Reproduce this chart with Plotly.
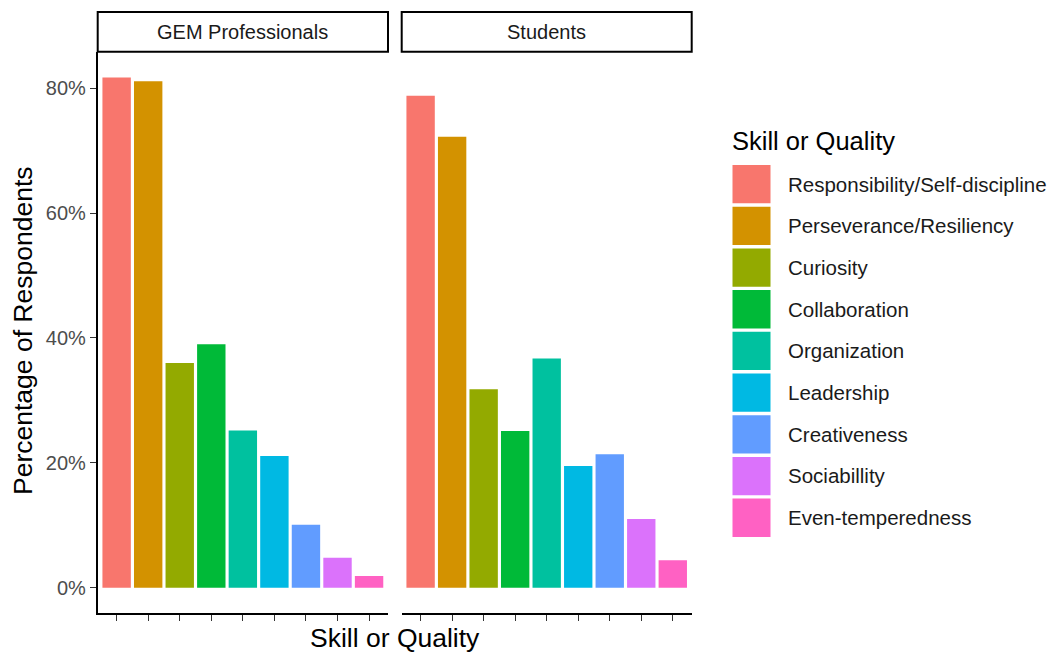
import plotly.graph_objects as go

# ---- data ----
skills = ["Responsibility/Self-discipline", "Perseverance/Resiliency", "Curiosity",
          "Collaboration", "Organization", "Leadership", "Creativeness",
          "Sociabillity", "Even-temperedness"]
gem_professionals = [81.7, 81.1, 36.0, 39.0, 25.2, 21.1, 10.1, 4.8, 1.9]
students = [78.8, 72.2, 31.8, 25.1, 36.7, 19.5, 21.4, 11.0, 4.4]
panel_names = ["GEM Professionals", "Students"]
colors = ["#F8766D", "#D39200", "#93AA00", "#00BA38", "#00C19F",
          "#00B9E3", "#619CFF", "#DB72FB", "#FF61C3"]
y_ticks = [0, 20, 40, 60, 80]
y_ticklabels = ["0%", "20%", "40%", "60%", "80%"]

W, H = 1057, 653
FONT = "Liberation Sans, Arial, sans-serif"

def px(x):
    return x / W

def py(y):
    return 1 - y / H

fig = go.Figure()
for i, vals in enumerate([gem_professionals, students]):
    fig.add_trace(go.Bar(
        x=skills, y=vals, marker=dict(color=colors, line=dict(width=0)),
        width=0.9, showlegend=False,
        xaxis="x" if i == 0 else "x2", yaxis="y" if i == 0 else "y2",
        hovertemplate="%{x}: %{y:.1f}%<extra></extra>"))

ymax = max(max(gem_professionals), max(students))
pad = 0.05 * ymax
yrange = [-pad, ymax + pad]

dom1 = [px(97.7), px(388.0)]
dom2 = [px(401.7), px(691.7)]
ydom = [py(613.3), py(52.0)]

xcommon = dict(type="category", range=[-0.6, len(skills) - 0.4],
               showticklabels=False, ticks="outside", ticklen=6, tickwidth=1.3,
               tickcolor="#333333", showline=True, linecolor="black", linewidth=1.8,
               showgrid=False, zeroline=False, fixedrange=True)
fig.update_layout(
    width=W, height=H, margin=dict(l=0, r=0, t=0, b=0),
    plot_bgcolor="white", paper_bgcolor="white",
    font=dict(family=FONT, color="#1a1a1a"),
    xaxis=dict(domain=dom1, anchor="y", **xcommon),
    xaxis2=dict(domain=dom2, anchor="y2", **xcommon),
    yaxis=dict(domain=ydom, anchor="x", range=yrange, tickvals=y_ticks,
               ticktext=y_ticklabels, ticks="outside", ticklen=6, tickwidth=1.3,
               tickcolor="#333333", showline=True, linecolor="black", linewidth=1.8,
               showgrid=False, zeroline=False,
               tickfont=dict(size=20, color="#4d4d4d", family=FONT)),
    yaxis2=dict(domain=ydom, anchor="x2", range=yrange, showticklabels=False,
                showline=False, showgrid=False, zeroline=False, ticks=""),
    bargap=0.1,
)

shapes = []
annotations = []
# facet strips
for name, dom in zip(panel_names, [dom1, dom2]):
    shapes.append(dict(type="rect", xref="paper", yref="paper",
                       x0=dom[0], x1=dom[1], y0=py(51.7), y1=py(12.0),
                       line=dict(color="black", width=2), fillcolor="white"))
    annotations.append(dict(text=name, xref="paper", yref="paper",
                            x=(dom[0] + dom[1]) / 2, y=py(32), showarrow=False,
                            xanchor="center", yanchor="middle",
                            font=dict(size=20, color="#1a1a1a", family=FONT)))

# axis titles
annotations.append(dict(text="Skill or Quality", xref="paper", yref="paper",
                        x=(dom1[0] + dom2[1]) / 2, y=py(638), showarrow=False,
                        xanchor="center", yanchor="middle",
                        font=dict(size=26.5, color="black", family=FONT)))
annotations.append(dict(text="Percentage of Respondents", xref="paper", yref="paper",
                        x=px(23), y=py(331), showarrow=False, textangle=-90,
                        xanchor="center", yanchor="middle",
                        font=dict(size=26.5, color="black", family=FONT)))

# legend (manual, ggplot style keys)
annotations.append(dict(text="Skill or Quality", xref="paper", yref="paper",
                        x=px(730), y=py(141), showarrow=False,
                        xanchor="left", yanchor="middle",
                        font=dict(size=25.5, color="black", family=FONT)))
key_top = 165.0
step = 41.7
for i, (s, c) in enumerate(zip(skills, colors)):
    y0 = key_top + i * step
    shapes.append(dict(type="rect", xref="paper", yref="paper",
                       x0=px(732.5), x1=px(770.5), y0=py(y0 + 38.3), y1=py(y0),
                       line=dict(width=0), fillcolor=c))
    annotations.append(dict(text=s, xref="paper", yref="paper",
                            x=px(785.5), y=py(y0 + 19), showarrow=False,
                            xanchor="left", yanchor="middle",
                            font=dict(size=20.5, color="#1a1a1a", family=FONT)))

fig.update_layout(shapes=shapes, annotations=annotations)
fig.write_html("out.html", config={"displayModeBar": False},
               post_script="document.body.style.margin='0px';document.body.style.padding='0px';document.body.style.overflow='hidden';")
